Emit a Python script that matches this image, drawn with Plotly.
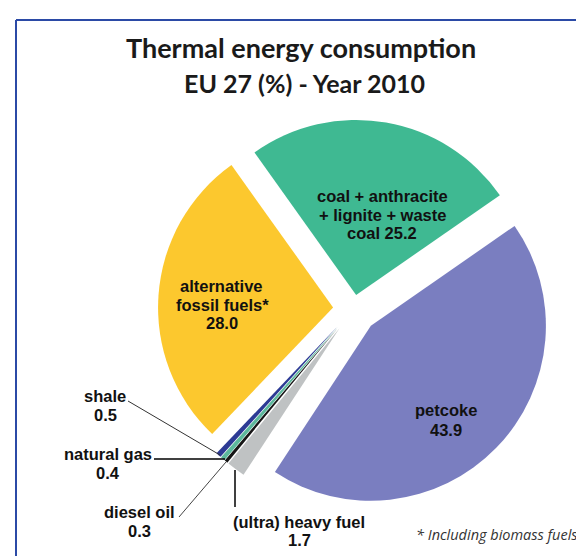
import plotly.graph_objects as go

# ---- data ----
categories = ["coal + anthracite + lignite + waste coal", "petcoke", "(ultra) heavy fuel",
              "diesel oil", "natural gas", "shale", "alternative fossil fuels*"]
values = [25.2, 43.9, 1.7, 0.3, 0.4, 0.5, 28.0]
colors = ["#3fb992", "#7a7ec0", "#bfc2c3", "#161616", "#5cb89c", "#2c3a94", "#fcc82e"]
pulls = [0.081, 0.137, 0.137, 0.137, 0.137, 0.137, 0.118]

W, H = 584, 556

def px(x):
    return x / W

def py(y):
    return 1 - y / H

fig = go.Figure(go.Pie(
    labels=categories, values=values, sort=False, direction="clockwise",
    rotation=-35.5, pull=pulls, textinfo="none", hoverinfo="label+value",
    marker=dict(colors=colors, line=dict(width=0)),
    domain=dict(x=[px(146.7), px(544.7)], y=[py(500), py(102)]),
    showlegend=False,
))

ann = []
def txt(x, y, s, size=16.5, family="Liberation Sans", color="#111111", bold=True, italic=False):
    t = s
    if bold:
        t = "<b>" + t + "</b>"
    if italic:
        t = "<i>" + t + "</i>"
    ann.append(dict(x=px(x), y=py(y), xref="paper", yref="paper", text=t, showarrow=False,
                    xanchor="center", yanchor="middle",
                    font=dict(size=size, family=family, color=color)))

# titles
txt(293, 39, "Thermal energy consumption", size=27, family="Lato", color="#1a1a1a")
txt(296, 75, "EU 27 (%) - Year 2010", size=25, family="Lato", color="#1a1a1a")

# slice labels
txt(374, 188, "coal + anthracite")
txt(374, 207, "+ lignite + waste")
txt(374, 225, "coal " + f"{values[0]:.1f}")
txt(213, 278, "alternative")
txt(214, 297, "fossil fuels*")
txt(214, 315, f"{values[6]:.1f}")
txt(438, 402, "petcoke")
txt(438, 422, f"{values[1]:.1f}")
txt(97, 388, "shale")
txt(97, 407, f"{values[5]:.1f}")
txt(100, 446, "natural gas")
txt(100, 465, f"{values[4]:.1f}")
txt(131, 504, "diesel oil")
txt(131, 523, f"{values[3]:.1f}")
txt(291, 514, "(ultra) heavy fuel")
txt(291, 532, f"{values[2]:.1f}")
txt(489, 526, "* Including biomass fuels", size=14.5, family="Open Sans", color="#333333",
    bold=False, italic=True)

shapes = [
    # frame
    dict(type="line", xref="paper", yref="paper", x0=px(8), y0=py(12), x1=px(600), y1=py(12),
         line=dict(color="#2b4aa6", width=2)),
    dict(type="line", xref="paper", yref="paper", x0=px(8), y0=py(12), x1=px(8), y1=py(570),
         line=dict(color="#2b4aa6", width=2)),
    # leader lines
    dict(type="line", xref="paper", yref="paper", x0=px(120), y0=py(393), x1=px(212), y1=py(447),
         line=dict(color="#333333", width=1)),
    dict(type="line", xref="paper", yref="paper", x0=px(146), y0=py(451), x1=px(217), y1=py(451),
         line=dict(color="#000000", width=1.5)),
    dict(type="line", xref="paper", yref="paper", x0=px(171), y0=py(509), x1=px(218), y1=py(454),
         line=dict(color="#444444", width=1)),
    dict(type="line", xref="paper", yref="paper", x0=px(227), y0=py(462), x1=px(227), y1=py(499),
         line=dict(color="#000000", width=1.5)),
]

fig.update_layout(width=W, height=H, margin=dict(l=0, r=0, t=0, b=0),
                  paper_bgcolor="white", plot_bgcolor="white",
                  annotations=ann, shapes=shapes)

fig.write_html("out.html")
